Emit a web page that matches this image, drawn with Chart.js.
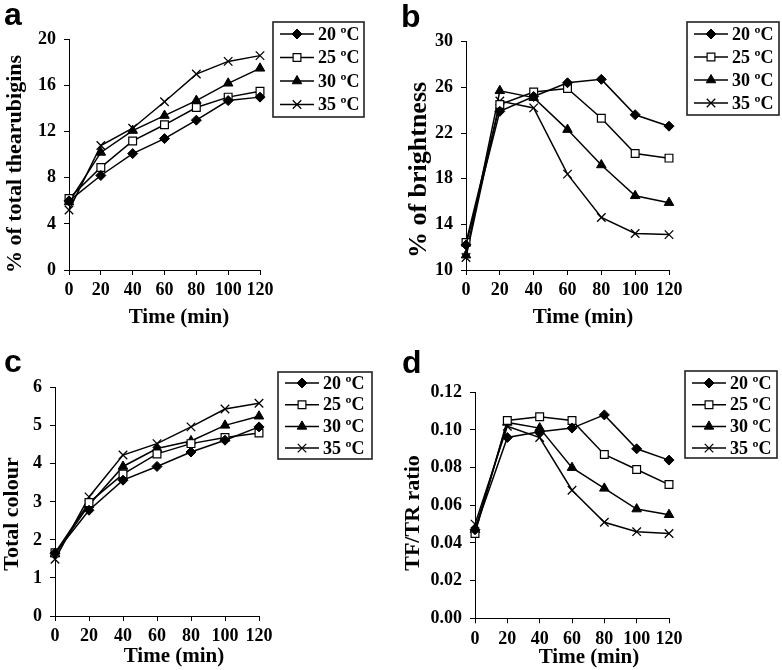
<!DOCTYPE html>
<html><head><meta charset="utf-8">
<script src="https://cdn.jsdelivr.net/npm/chart.js@4"></script>
<style>
html,body{margin:0;padding:0;background:#fff;width:782px;height:670px;overflow:hidden;}
.panel{position:absolute;}
.panel canvas{display:block;}
.lbl{position:absolute;font:bold 32px "Liberation Sans",Arial,sans-serif;color:#000;line-height:1;}
</style></head><body>
<div class="panel" style="left:0;top:0"><canvas id="ca" width="390" height="330"></canvas></div>
<div class="panel" style="left:390px;top:0"><canvas id="cb" width="392" height="330"></canvas></div>
<div class="panel" style="left:0;top:330px"><canvas id="cc" width="390" height="340"></canvas></div>
<div class="panel" style="left:390px;top:330px"><canvas id="cd" width="392" height="340"></canvas></div>
<div class="lbl" style="left:4px;top:-2px">a</div>
<div class="lbl" style="left:401px;top:0px">b</div>
<div class="lbl" style="left:4px;top:345px">c</div>
<div class="lbl" style="left:402px;top:346px">d</div>
<script>
// ---- data ----
const times = [0, 20, 40, 60, 80, 100, 120];
const seriesLabels = ['20 ºC', '25 ºC', '30 ºC', '35 ºC'];
const xTitle = 'Time (min)';
const yTitles = ['% of total thearubigins', '% of brightness', 'Total colour', 'TF/TR ratio'];

// a: % of total thearubigins
const tr20 = [6.0, 8.2, 10.1, 11.4, 13.0, 14.7, 15.0];
const tr25 = [6.2, 8.9, 11.2, 12.6, 14.1, 15.0, 15.5];
const tr30 = [5.9, 10.2, 12.1, 13.4, 14.7, 16.2, 17.5];
const tr35 = [5.2, 10.8, 12.3, 14.6, 17.0, 18.1, 18.6];
// b: % of brightness
const br20 = [12.2, 23.9, 25.2, 26.4, 26.7, 23.6, 22.6];
const br25 = [12.4, 24.5, 25.6, 25.9, 23.3, 20.2, 19.8];
const br30 = [11.3, 25.7, 25.1, 22.3, 19.2, 16.5, 15.9];
const br35 = [11.1, 24.8, 24.2, 18.4, 14.6, 13.2, 13.1];
// c: total colour
const tc20 = [1.65, 2.78, 3.57, 3.93, 4.31, 4.62, 4.97];
const tc25 = [1.66, 2.98, 3.73, 4.26, 4.53, 4.69, 4.81];
const tc30 = [1.63, 2.92, 3.93, 4.40, 4.60, 5.01, 5.25];
const tc35 = [1.49, 3.13, 4.23, 4.53, 4.97, 5.44, 5.59];
// d: TF/TR ratio
const rt20 = [0.047, 0.096, 0.099, 0.101, 0.108, 0.090, 0.084];
const rt25 = [0.045, 0.105, 0.107, 0.105, 0.087, 0.079, 0.071];
const rt30 = [0.047, 0.104, 0.101, 0.080, 0.069, 0.058, 0.055];
const rt35 = [0.050, 0.102, 0.096, 0.068, 0.051, 0.046, 0.045];

// ---- styles ----
const serif = '"Liberation Serif", "Times New Roman", serif';
const markerStyles = [
  {pointStyle: 'rectRot', pointRadius: 5, pointBackgroundColor: '#000', pointBorderColor: '#000', pointBorderWidth: 1},
  {pointStyle: 'rect', pointRadius: 5.5, pointBackgroundColor: '#fff', pointBorderColor: '#000', pointBorderWidth: 1.2},
  {pointStyle: 'triangle', pointRadius: 5.5, pointBackgroundColor: '#000', pointBorderColor: '#000', pointBorderWidth: 1},
  {pointStyle: 'crossRot', pointRadius: 6, pointBackgroundColor: '#000', pointBorderColor: '#000', pointBorderWidth: 1.3}
];

function makeDatasets(arrs) {
  return arrs.map((vals, i) => Object.assign({
    label: seriesLabels[i],
    data: times.map((t, j) => ({x: t, y: vals[j]})),
    borderColor: '#000', borderWidth: 1.5, tension: 0, fill: false, clip: false,
    pointHoverRadius: 5
  }, markerStyles[i]));
}

const boxLegend = {
  id: 'boxLegend',
  afterDraw(chart, args, o) {
    const ctx = chart.ctx;
    ctx.save();
    ctx.strokeStyle = '#222'; ctx.lineWidth = 1.6;
    ctx.strokeRect(o.x, o.y, o.w, o.h);
    ctx.font = 'bold 18px ' + serif;
    ctx.textBaseline = 'middle'; ctx.textAlign = 'left';
    chart.data.datasets.forEach((ds, i) => {
      const cy = o.y + o.first + i * o.step;
      const x0 = o.x + 7;
      ctx.beginPath(); ctx.moveTo(x0, cy); ctx.lineTo(x0 + 34, cy);
      ctx.strokeStyle = ds.borderColor; ctx.lineWidth = ds.borderWidth; ctx.stroke();
      ctx.fillStyle = ds.pointBackgroundColor; ctx.strokeStyle = ds.pointBorderColor; ctx.lineWidth = ds.pointBorderWidth;
      Chart.helpers.drawPoint(ctx, {pointStyle: ds.pointStyle, radius: ds.pointRadius, rotation: 0, borderWidth: ds.pointBorderWidth}, x0 + 17, cy);
      ctx.fillStyle = '#000';
      ctx.fillText(ds.label, x0 + 38, cy + 1);
    });
    ctx.restore();
  }
};

const axisTitles = {
  id: 'axisTitles',
  afterDraw(chart, args, o) {
    const ctx = chart.ctx;
    ctx.save();
    ctx.fillStyle = '#000';
    ctx.textAlign = 'center'; ctx.textBaseline = 'middle';
    ctx.font = 'bold 21px ' + serif;
    ctx.fillText(o.xText, o.xX, o.xY);
    ctx.font = 'bold ' + o.ySize + 'px ' + serif;
    ctx.translate(o.yX, o.yY); ctx.rotate(-Math.PI / 2);
    ctx.fillText(o.yText, 0, 0);
    ctx.restore();
  }
};

function makeChart(id, arrs, cfg) {
  const cv = document.getElementById(id);
  const W = cv.width, H = cv.height;
  const tickFont = {family: serif, size: 18, weight: 'bold'};
  return new Chart(cv, {
    type: 'line',
    data: {datasets: makeDatasets(arrs)},
    options: {
      responsive: false, animation: false, events: [],
      layout: {padding: {left: cfg.padLeft, top: cfg.top, right: W - cfg.right, bottom: 0}},
      plugins: {
        legend: {display: false}, tooltip: {enabled: false},
        boxLegend: cfg.legend,
        axisTitles: Object.assign({xText: xTitle, yText: cfg.yTitle}, cfg.titles)
      },
      scales: {
        x: {
          type: 'linear', min: 0, max: 120,
          ticks: {stepSize: 20, color: '#000', font: tickFont, padding: 5, maxRotation: 0},
          grid: {drawOnChartArea: false, drawTicks: true, tickLength: 5, color: '#000', lineWidth: 1},
          border: {display: true, color: '#000', width: 1},
          afterFit: s => { s.height = H - cfg.bottom; }
        },
        y: {
          type: 'linear', min: cfg.yMin, max: cfg.yMax,
          ticks: {stepSize: cfg.yStep, color: '#000', font: tickFont, padding: 8,
                  callback: v => cfg.dec ? Number(v).toFixed(cfg.dec) : v},
          grid: {drawOnChartArea: false, drawTicks: true, tickLength: 5, color: '#000', lineWidth: 1},
          border: {display: true, color: '#000', width: 1},
          afterFit: s => { s.width = cfg.left - cfg.padLeft; }
        }
      }
    },
    plugins: [boxLegend, axisTitles]
  });
}

makeChart('ca', [tr20, tr25, tr30, tr35], {
  left: 69, right: 260, top: 39.5, bottom: 270, padLeft: 0,
  yMin: 0, yMax: 20, yStep: 4, yTitle: yTitles[0],
  legend: {x: 273, y: 22, w: 91, h: 95, first: 12, step: 23.5},
  titles: {xX: 179, xY: 318, yX: 15, yY: 164, ySize: 22}
});
makeChart('cb', [br20, br25, br30, br35], {
  left: 76, right: 279, top: 41.7, bottom: 270, padLeft: 0,
  yMin: 10, yMax: 30, yStep: 4, yTitle: yTitles[1],
  legend: {x: 297, y: 22, w: 92, h: 93, first: 12, step: 23},
  titles: {xX: 193, xY: 318, yX: 29, yY: 170, ySize: 26}
});
makeChart('cc', [tc20, tc25, tc30, tc35], {
  left: 55, right: 259, top: 57.7, bottom: 286, padLeft: 0,
  yMin: 0, yMax: 6, yStep: 1, yTitle: yTitles[2],
  legend: {x: 278, y: 42, w: 94, h: 87, first: 11, step: 21.7},
  titles: {xX: 174, xY: 327, yX: 12, yY: 184, ySize: 22}
});
makeChart('cd', [rt20, rt25, rt30, rt35], {
  left: 85, right: 279, top: 62.3, bottom: 288.3, padLeft: 0,
  yMin: 0, yMax: 0.12, yStep: 0.02, dec: 2, yTitle: yTitles[3],
  legend: {x: 295, y: 41, w: 92, h: 87, first: 12, step: 21.7},
  titles: {xX: 199, xY: 328, yX: 23, yY: 183, ySize: 22}
});
</script>
</body></html>
